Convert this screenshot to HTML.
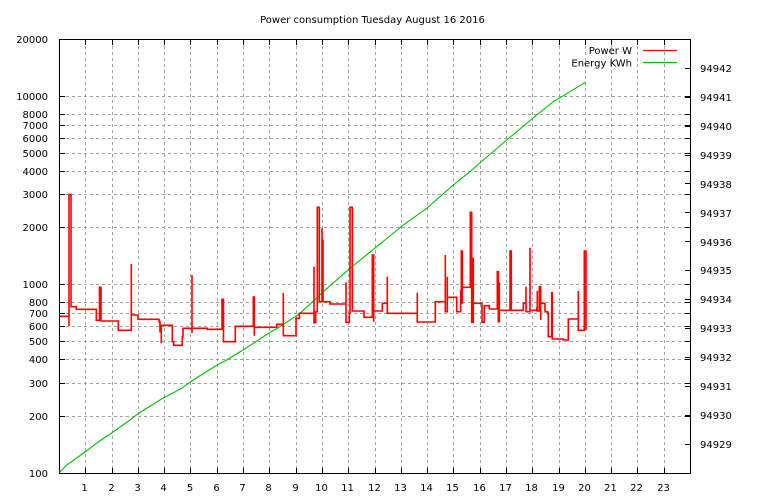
<!DOCTYPE html>
<html>
<head>
<meta charset="utf-8">
<style>
html,body{margin:0;padding:0;background:#fff;}
svg{display:block;}
text{font-family:"DejaVu Sans","Liberation Sans",sans-serif;font-size:10px;fill:#000;}
</style>
</head>
<body>
<svg width="768" height="500" viewBox="0 0 768 500" xmlns="http://www.w3.org/2000/svg">
<rect x="0" y="0" width="768" height="500" fill="#fff"/>

<!-- grid -->
<g stroke="#a0a0a0" stroke-width="1" stroke-dasharray="3,3" shape-rendering="crispEdges" fill="none">
<path d="M85.5 40V473M112.5 40V473M138.5 40V473M164.5 40V473M190.5 40V473M217.5 40V473M243.5 40V473M269.5 40V473M296.5 40V473M322.5 40V473M348.5 40V473M375.5 40V473M401.5 40V473M427.5 40V473M453.5 40V473M480.5 40V473M506.5 40V473M532.5 40V473M559.5 40V473M585.5 40V473M611.5 40V473M637.5 40V473M664.5 40V473"/>
<path d="M60 416.5H690M60 383.5H690M60 359.5H690M60 341.5H690M60 326.5H690M60 313.5H690M60 302.5H690M60 284.5H690M60 227.5H690M60 194.5H690M60 171.5H690M60 153.5H690M60 138.5H690M60 125.5H690M60 114.5H690M60 96.5H690"/>
</g>

<!-- ticks -->
<g stroke="#000" stroke-width="1" shape-rendering="crispEdges" fill="none">
<path d="M85.5 473V468M112.5 473V468M138.5 473V468M164.5 473V468M190.5 473V468M217.5 473V468M243.5 473V468M269.5 473V468M296.5 473V468M322.5 473V468M348.5 473V468M375.5 473V468M401.5 473V468M427.5 473V468M453.5 473V468M480.5 473V468M506.5 473V468M532.5 473V468M559.5 473V468M585.5 473V468M611.5 473V468M637.5 473V468M664.5 473V468"/>
<path d="M85.5 40V45M112.5 40V45M138.5 40V45M164.5 40V45M190.5 40V45M217.5 40V45M243.5 40V45M269.5 40V45M296.5 40V45M322.5 40V45M348.5 40V45M375.5 40V45M401.5 40V45M427.5 40V45M453.5 40V45M480.5 40V45M506.5 40V45M532.5 40V45M559.5 40V45M585.5 40V45M611.5 40V45M637.5 40V45M664.5 40V45"/>
<path d="M60 416.5H65M60 383.5H65M60 359.5H65M60 341.5H65M60 326.5H65M60 313.5H65M60 302.5H65M60 284.5H65M60 227.5H65M60 194.5H65M60 171.5H65M60 153.5H65M60 138.5H65M60 125.5H65M60 114.5H65M60 96.5H65"/>
<path d="M690 416.5H685M690 383.5H685M690 359.5H685M690 341.5H685M690 326.5H685M690 313.5H685M690 302.5H685M690 284.5H685M690 227.5H685M690 194.5H685M690 171.5H685M690 153.5H685M690 138.5H685M690 125.5H685M690 114.5H685M690 96.5H685"/>
<path d="M690 444.5H685M690 415.5H685M690 386.5H685M690 357.5H685M690 328.5H685M690 299.5H685M690 270.5H685M690 241.5H685M690 212.5H685M690 183.5H685M690 155.5H685M690 126.5H685M690 97.5H685M690 68.5H685"/>
</g>

<!-- border -->
<rect x="59.5" y="39.5" width="631" height="434" fill="none" stroke="#000" stroke-width="1" shape-rendering="crispEdges"/>

<!-- title -->
<text x="372.5" y="23" text-anchor="middle">Power consumption Tuesday August 16 2016</text>

<!-- left labels -->
<g text-anchor="end">
<text x="48" y="43">20000</text>
<text x="48" y="100">10000</text>
<text x="48" y="118">8000</text>
<text x="48" y="129">7000</text>
<text x="48" y="142">6000</text>
<text x="48" y="157">5000</text>
<text x="48" y="175">4000</text>
<text x="48" y="198">3000</text>
<text x="48" y="231">2000</text>
<text x="48" y="288">1000</text>
<text x="48" y="306">800</text>
<text x="48" y="317">700</text>
<text x="48" y="330">600</text>
<text x="48" y="345">500</text>
<text x="48" y="363">400</text>
<text x="48" y="387">300</text>
<text x="48" y="420">200</text>
<text x="48" y="477">100</text>
</g>

<!-- right labels -->
<g text-anchor="start">
<text x="700" y="72">94942</text>
<text x="700" y="101">94941</text>
<text x="700" y="130">94940</text>
<text x="700" y="159">94939</text>
<text x="700" y="188">94938</text>
<text x="700" y="217">94937</text>
<text x="700" y="246">94936</text>
<text x="700" y="274">94935</text>
<text x="700" y="303">94934</text>
<text x="700" y="332">94933</text>
<text x="700" y="361">94932</text>
<text x="700" y="390">94931</text>
<text x="700" y="419">94930</text>
<text x="700" y="448">94929</text>
</g>

<!-- x labels -->
<g text-anchor="middle">
<text x="84.5" y="491">1</text>
<text x="111.5" y="491">2</text>
<text x="137.5" y="491">3</text>
<text x="163.5" y="491">4</text>
<text x="190" y="491">5</text>
<text x="216.5" y="491">6</text>
<text x="242.5" y="491">7</text>
<text x="268.5" y="491">8</text>
<text x="295.5" y="491">9</text>
<text x="321.5" y="491">10</text>
<text x="347.5" y="491">11</text>
<text x="374.5" y="491">12</text>
<text x="400.5" y="491">13</text>
<text x="426.5" y="491">14</text>
<text x="452.5" y="491">15</text>
<text x="479.5" y="491">16</text>
<text x="505.5" y="491">17</text>
<text x="531.5" y="491">18</text>
<text x="558.5" y="491">19</text>
<text x="584.5" y="491">20</text>
<text x="610.5" y="491">21</text>
<text x="636.5" y="491">22</text>
<text x="663.5" y="491">23</text>
</g>

<!-- legend -->
<text x="632" y="54" text-anchor="end">Power W</text>
<text x="632" y="66.5" text-anchor="end">Energy KWh</text>
<path d="M643 50.5H677" stroke="#ff0000" stroke-width="1.2" fill="none"/>
<path d="M643 62.5H677" stroke="#00c000" stroke-width="1.2" fill="none"/>

<!-- energy -->
<polyline fill="none" stroke="#00c000" stroke-width="1.1" points="59.5,472.5 66.7,465 85.7,451.5 96.7,443 112.3,432.5 130,420 138.3,413.5 160,400 164.3,397.5 181.7,388.3 193.3,380 217,365 226.7,360 243,350 253.3,343.3 269,333 280,326.7 300,313.3 323.3,291.7 350,268.3 376.7,246.7 403.3,225 426.7,208.3 453.3,185 470,171.7 483.3,160 506.7,140 536.7,115 553.3,101.7 585.5,82.3"/>

<!-- power -->
<path fill="none" stroke="#ff0000" stroke-width="1.6" stroke-linejoin="miter" d="M60 316.3 H69 V326 V194.5 H71 V306.7 H76.3 V309.3 H96.3 V320.3 H99.5 V287.3 H101 V321 H118.3 V330.3 H131.3 V264 V315 H138 V319.3 H159 V321.7 H160 V331.7 H161.3 V343.3 V325.3 H172.3 V341.7 H173.7 V345.3 H182.3 V336.7 H183 V328.3 H192 V333 V275 V328.3 H207.3 V329.3 H222 V299.3 H223.5 V341.7 H235.3 V326.3 H253.3 V297 H254.3 V335.7 V327.3 H276.7 V324.3 H283.3 V293 V335.7 H296 V318.3 H299.3 V313.3 H314 V266.7 V322.7 H315.7 V311.7 H317.3 V207.3 H319.3 V301.7 H322 V228.3 V301.7 H323 V240 V301.7 H330 V304 H346 V282.3 V322.3 H349.3 V313.3 H350 V207.3 H352.3 V311 H364 V317.3 H372.3 V255 H373.7 V321.7 V311 H382.3 V303.3 H387.3 V276.7 V313.3 H417.3 V292.7 V322 H435.3 V301.7 H445.3 V255 V311.7 H447.3 V276.7 V297.3 H456.7 V311.7 H460.7 V291 H461.3 V251 H462.3 V303.7 V287.3 H470.3 V212.3 H471.7 V322.3 H473.3 V257.7 V303.3 H482 V322.3 H484.3 V305.7 H489.3 V309 H497.3 V271.7 H498.3 V321.7 H499.3 V282.3 V310.3 H510 V251 H511.3 V310.3 H523.3 V303.3 H526 V286.7 V311.7 H530 V247.7 V310.3 H536.7 V308.3 H537.3 V291 V311 H539.3 V286.7 H540.7 V320 V303.3 H545 V311.7 H547.7 V313.3 H548.3 V336.7 H551.7 V292.7 H552.3 V339 H563.3 V340 H568.3 V319 H578.3 V291 V330.3 H584.3 V251 H586 V330"/>
</svg>
</body>
</html>
